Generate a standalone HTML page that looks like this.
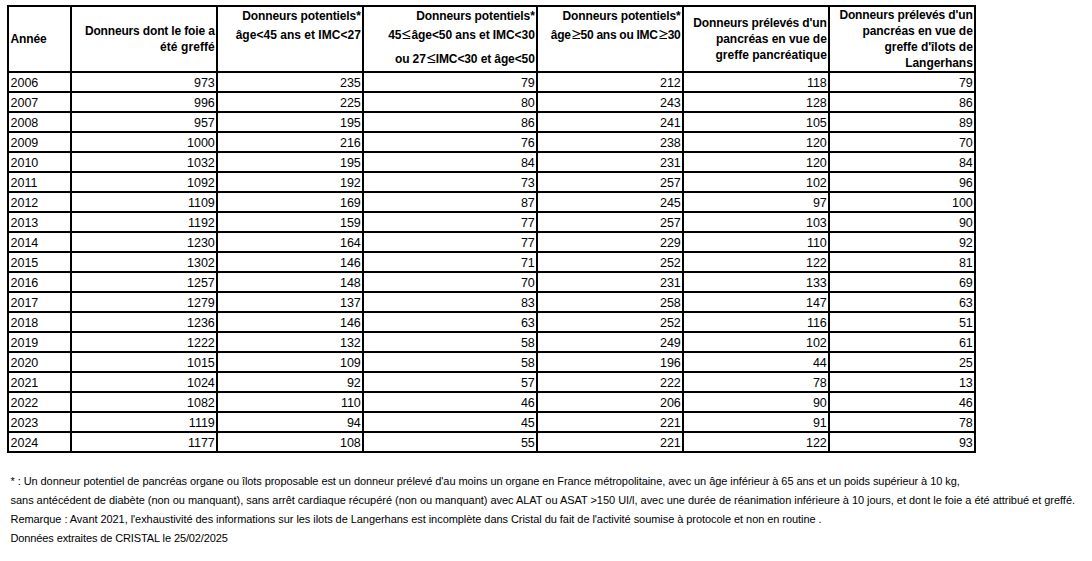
<!DOCTYPE html>
<html><head><meta charset="utf-8"><style>
html,body{margin:0;padding:0;background:#fff;}
body{width:1092px;height:561px;position:relative;overflow:hidden;font-family:"Liberation Sans",sans-serif;color:#000;}
.l{position:absolute;background:#000;}
.t{position:absolute;white-space:nowrap;line-height:20px;height:20px;}
.r{text-align:right;}
.d{font-size:12.5px;}
.h{font-size:12px;font-weight:bold;}
.n{font-size:11px;}
.g{display:inline-block;vertical-align:baseline;}
</style></head><body>

<div class="l" style="left:7px;top:5px;width:2px;height:448px"></div>
<div class="l" style="left:70px;top:5px;width:2px;height:448px"></div>
<div class="l" style="left:216px;top:5px;width:2px;height:448px"></div>
<div class="l" style="left:362px;top:5px;width:2px;height:448px"></div>
<div class="l" style="left:536px;top:5px;width:2px;height:448px"></div>
<div class="l" style="left:682px;top:5px;width:2px;height:448px"></div>
<div class="l" style="left:828px;top:5px;width:2px;height:448px"></div>
<div class="l" style="left:974px;top:5px;width:2px;height:448px"></div>
<div class="l" style="left:7px;top:5px;width:969px;height:2px"></div>
<div class="l" style="left:7px;top:71px;width:969px;height:2px"></div>
<div class="l" style="left:7px;top:91px;width:969px;height:2px"></div>
<div class="l" style="left:7px;top:111px;width:969px;height:2px"></div>
<div class="l" style="left:7px;top:131px;width:969px;height:2px"></div>
<div class="l" style="left:7px;top:151px;width:969px;height:2px"></div>
<div class="l" style="left:7px;top:171px;width:969px;height:2px"></div>
<div class="l" style="left:7px;top:191px;width:969px;height:2px"></div>
<div class="l" style="left:7px;top:211px;width:969px;height:2px"></div>
<div class="l" style="left:7px;top:231px;width:969px;height:2px"></div>
<div class="l" style="left:7px;top:251px;width:969px;height:2px"></div>
<div class="l" style="left:7px;top:271px;width:969px;height:2px"></div>
<div class="l" style="left:7px;top:291px;width:969px;height:2px"></div>
<div class="l" style="left:7px;top:311px;width:969px;height:2px"></div>
<div class="l" style="left:7px;top:331px;width:969px;height:2px"></div>
<div class="l" style="left:7px;top:351px;width:969px;height:2px"></div>
<div class="l" style="left:7px;top:371px;width:969px;height:2px"></div>
<div class="l" style="left:7px;top:391px;width:969px;height:2px"></div>
<div class="l" style="left:7px;top:411px;width:969px;height:2px"></div>
<div class="l" style="left:7px;top:431px;width:969px;height:2px"></div>
<div class="l" style="left:7px;top:451px;width:969px;height:2px"></div>
<div class="t h" style="left:10.5px;top:29px;letter-spacing:-0.125px">Année</div>
<div class="t h r" style="right:877.35px;top:21px;letter-spacing:-0.155px">Donneurs dont le foie a</div>
<div class="t h r" style="right:877.10px;top:37px;letter-spacing:0.100px">été greffé</div>
<div class="t h r" style="right:731.31px;top:6px;letter-spacing:-0.111px">Donneurs potentiels*</div>
<div class="t h r" style="right:731.18px;top:25px;letter-spacing:0.021px">âge&lt;45 ans et IMC&lt;27</div>
<div class="t h r" style="right:557.31px;top:6px;letter-spacing:-0.111px">Donneurs potentiels*</div>
<div class="t h r" style="right:557.27px;top:25px;letter-spacing:-0.073px">45<svg class="g" width="10" height="9" viewBox="0 0 10 9"><path d="M9.3 0.4 L1.8 3.7 L9.3 6.9 M1.7 8.4 H9.3" fill="none" stroke="#000" stroke-width="1.05"/></svg>âge&lt;50 ans et IMC&lt;30</div>
<div class="t h r" style="right:557.31px;top:49px;letter-spacing:-0.110px">ou 27<svg class="g" width="10" height="9" viewBox="0 0 10 9"><path d="M9.3 0.4 L1.8 3.7 L9.3 6.9 M1.7 8.4 H9.3" fill="none" stroke="#000" stroke-width="1.05"/></svg>IMC&lt;30 et âge&lt;50</div>
<div class="t h r" style="right:411.33px;top:6px;letter-spacing:-0.126px">Donneurs potentiels*</div>
<div class="t h r" style="right:411.47px;top:25px;letter-spacing:-0.274px">âge<svg class="g" width="10" height="9" viewBox="0 0 10 9"><path d="M1.5 0.4 L9 3.7 L1.5 6.9 M1.5 8.4 H9" fill="none" stroke="#000" stroke-width="1.05"/></svg>50 ans ou IMC<svg class="g" width="10" height="9" viewBox="0 0 10 9"><path d="M1.5 0.4 L9 3.7 L1.5 6.9 M1.5 8.4 H9" fill="none" stroke="#000" stroke-width="1.05"/></svg>30</div>
<div class="t h r" style="right:265.33px;top:13px;letter-spacing:-0.129px">Donneurs prélevés d'un</div>
<div class="t h r" style="right:265.23px;top:29px;letter-spacing:-0.029px">pancréas en vue de</div>
<div class="t h r" style="right:265.21px;top:45px;letter-spacing:-0.006px">greffe pancréatique</div>
<div class="t h r" style="right:119.33px;top:5px;letter-spacing:-0.133px">Donneurs prélevés d'un</div>
<div class="t h r" style="right:119.26px;top:21px;letter-spacing:-0.059px">pancréas en vue de</div>
<div class="t h r" style="right:119.24px;top:37px;letter-spacing:-0.038px">greffe d'îlots de</div>
<div class="t h r" style="right:119.24px;top:53px;letter-spacing:-0.044px">Langerhans</div>
<div class="t d" style="left:10.5px;top:73px">2006</div>
<div class="t d r" style="right:877.20px;top:73px">973</div>
<div class="t d r" style="right:731.20px;top:73px">235</div>
<div class="t d r" style="right:557.20px;top:73px">79</div>
<div class="t d r" style="right:411.20px;top:73px">212</div>
<div class="t d r" style="right:265.20px;top:73px">118</div>
<div class="t d r" style="right:119.20px;top:73px">79</div>
<div class="t d" style="left:10.5px;top:93px">2007</div>
<div class="t d r" style="right:877.20px;top:93px">996</div>
<div class="t d r" style="right:731.20px;top:93px">225</div>
<div class="t d r" style="right:557.20px;top:93px">80</div>
<div class="t d r" style="right:411.20px;top:93px">243</div>
<div class="t d r" style="right:265.20px;top:93px">128</div>
<div class="t d r" style="right:119.20px;top:93px">86</div>
<div class="t d" style="left:10.5px;top:113px">2008</div>
<div class="t d r" style="right:877.20px;top:113px">957</div>
<div class="t d r" style="right:731.20px;top:113px">195</div>
<div class="t d r" style="right:557.20px;top:113px">86</div>
<div class="t d r" style="right:411.20px;top:113px">241</div>
<div class="t d r" style="right:265.20px;top:113px">105</div>
<div class="t d r" style="right:119.20px;top:113px">89</div>
<div class="t d" style="left:10.5px;top:133px">2009</div>
<div class="t d r" style="right:877.20px;top:133px">1000</div>
<div class="t d r" style="right:731.20px;top:133px">216</div>
<div class="t d r" style="right:557.20px;top:133px">76</div>
<div class="t d r" style="right:411.20px;top:133px">238</div>
<div class="t d r" style="right:265.20px;top:133px">120</div>
<div class="t d r" style="right:119.20px;top:133px">70</div>
<div class="t d" style="left:10.5px;top:153px">2010</div>
<div class="t d r" style="right:877.20px;top:153px">1032</div>
<div class="t d r" style="right:731.20px;top:153px">195</div>
<div class="t d r" style="right:557.20px;top:153px">84</div>
<div class="t d r" style="right:411.20px;top:153px">231</div>
<div class="t d r" style="right:265.20px;top:153px">120</div>
<div class="t d r" style="right:119.20px;top:153px">84</div>
<div class="t d" style="left:10.5px;top:173px">2011</div>
<div class="t d r" style="right:877.20px;top:173px">1092</div>
<div class="t d r" style="right:731.20px;top:173px">192</div>
<div class="t d r" style="right:557.20px;top:173px">73</div>
<div class="t d r" style="right:411.20px;top:173px">257</div>
<div class="t d r" style="right:265.20px;top:173px">102</div>
<div class="t d r" style="right:119.20px;top:173px">96</div>
<div class="t d" style="left:10.5px;top:193px">2012</div>
<div class="t d r" style="right:877.20px;top:193px">1109</div>
<div class="t d r" style="right:731.20px;top:193px">169</div>
<div class="t d r" style="right:557.20px;top:193px">87</div>
<div class="t d r" style="right:411.20px;top:193px">245</div>
<div class="t d r" style="right:265.20px;top:193px">97</div>
<div class="t d r" style="right:119.20px;top:193px">100</div>
<div class="t d" style="left:10.5px;top:213px">2013</div>
<div class="t d r" style="right:877.20px;top:213px">1192</div>
<div class="t d r" style="right:731.20px;top:213px">159</div>
<div class="t d r" style="right:557.20px;top:213px">77</div>
<div class="t d r" style="right:411.20px;top:213px">257</div>
<div class="t d r" style="right:265.20px;top:213px">103</div>
<div class="t d r" style="right:119.20px;top:213px">90</div>
<div class="t d" style="left:10.5px;top:233px">2014</div>
<div class="t d r" style="right:877.20px;top:233px">1230</div>
<div class="t d r" style="right:731.20px;top:233px">164</div>
<div class="t d r" style="right:557.20px;top:233px">77</div>
<div class="t d r" style="right:411.20px;top:233px">229</div>
<div class="t d r" style="right:265.20px;top:233px">110</div>
<div class="t d r" style="right:119.20px;top:233px">92</div>
<div class="t d" style="left:10.5px;top:253px">2015</div>
<div class="t d r" style="right:877.20px;top:253px">1302</div>
<div class="t d r" style="right:731.20px;top:253px">146</div>
<div class="t d r" style="right:557.20px;top:253px">71</div>
<div class="t d r" style="right:411.20px;top:253px">252</div>
<div class="t d r" style="right:265.20px;top:253px">122</div>
<div class="t d r" style="right:119.20px;top:253px">81</div>
<div class="t d" style="left:10.5px;top:273px">2016</div>
<div class="t d r" style="right:877.20px;top:273px">1257</div>
<div class="t d r" style="right:731.20px;top:273px">148</div>
<div class="t d r" style="right:557.20px;top:273px">70</div>
<div class="t d r" style="right:411.20px;top:273px">231</div>
<div class="t d r" style="right:265.20px;top:273px">133</div>
<div class="t d r" style="right:119.20px;top:273px">69</div>
<div class="t d" style="left:10.5px;top:293px">2017</div>
<div class="t d r" style="right:877.20px;top:293px">1279</div>
<div class="t d r" style="right:731.20px;top:293px">137</div>
<div class="t d r" style="right:557.20px;top:293px">83</div>
<div class="t d r" style="right:411.20px;top:293px">258</div>
<div class="t d r" style="right:265.20px;top:293px">147</div>
<div class="t d r" style="right:119.20px;top:293px">63</div>
<div class="t d" style="left:10.5px;top:313px">2018</div>
<div class="t d r" style="right:877.20px;top:313px">1236</div>
<div class="t d r" style="right:731.20px;top:313px">146</div>
<div class="t d r" style="right:557.20px;top:313px">63</div>
<div class="t d r" style="right:411.20px;top:313px">252</div>
<div class="t d r" style="right:265.20px;top:313px">116</div>
<div class="t d r" style="right:119.20px;top:313px">51</div>
<div class="t d" style="left:10.5px;top:333px">2019</div>
<div class="t d r" style="right:877.20px;top:333px">1222</div>
<div class="t d r" style="right:731.20px;top:333px">132</div>
<div class="t d r" style="right:557.20px;top:333px">58</div>
<div class="t d r" style="right:411.20px;top:333px">249</div>
<div class="t d r" style="right:265.20px;top:333px">102</div>
<div class="t d r" style="right:119.20px;top:333px">61</div>
<div class="t d" style="left:10.5px;top:353px">2020</div>
<div class="t d r" style="right:877.20px;top:353px">1015</div>
<div class="t d r" style="right:731.20px;top:353px">109</div>
<div class="t d r" style="right:557.20px;top:353px">58</div>
<div class="t d r" style="right:411.20px;top:353px">196</div>
<div class="t d r" style="right:265.20px;top:353px">44</div>
<div class="t d r" style="right:119.20px;top:353px">25</div>
<div class="t d" style="left:10.5px;top:373px">2021</div>
<div class="t d r" style="right:877.20px;top:373px">1024</div>
<div class="t d r" style="right:731.20px;top:373px">92</div>
<div class="t d r" style="right:557.20px;top:373px">57</div>
<div class="t d r" style="right:411.20px;top:373px">222</div>
<div class="t d r" style="right:265.20px;top:373px">78</div>
<div class="t d r" style="right:119.20px;top:373px">13</div>
<div class="t d" style="left:10.5px;top:393px">2022</div>
<div class="t d r" style="right:877.20px;top:393px">1082</div>
<div class="t d r" style="right:731.20px;top:393px">110</div>
<div class="t d r" style="right:557.20px;top:393px">46</div>
<div class="t d r" style="right:411.20px;top:393px">206</div>
<div class="t d r" style="right:265.20px;top:393px">90</div>
<div class="t d r" style="right:119.20px;top:393px">46</div>
<div class="t d" style="left:10.5px;top:413px">2023</div>
<div class="t d r" style="right:877.20px;top:413px">1119</div>
<div class="t d r" style="right:731.20px;top:413px">94</div>
<div class="t d r" style="right:557.20px;top:413px">45</div>
<div class="t d r" style="right:411.20px;top:413px">221</div>
<div class="t d r" style="right:265.20px;top:413px">91</div>
<div class="t d r" style="right:119.20px;top:413px">78</div>
<div class="t d" style="left:10.5px;top:433px">2024</div>
<div class="t d r" style="right:877.20px;top:433px">1177</div>
<div class="t d r" style="right:731.20px;top:433px">108</div>
<div class="t d r" style="right:557.20px;top:433px">55</div>
<div class="t d r" style="right:411.20px;top:433px">221</div>
<div class="t d r" style="right:265.20px;top:433px">122</div>
<div class="t d r" style="right:119.20px;top:433px">93</div>
<div class="t n" style="left:10.5px;top:471px;letter-spacing:-0.073px">* : Un donneur potentiel de pancréas organe ou îlots proposable est un donneur prélevé d'au moins un organe en France métropolitaine, avec un âge inférieur à 65 ans et un poids supérieur à 10 kg,</div>
<div class="t n" style="left:10.5px;top:490px;letter-spacing:-0.034px">sans antécédent de diabète (non ou manquant), sans arrêt cardiaque récupéré (non ou manquant) avec ALAT ou ASAT &gt;150 UI/l, avec une durée de réanimation inférieure à 10 jours, et dont le foie a été attribué et greffé.</div>
<div class="t n" style="left:10.5px;top:509px;letter-spacing:-0.057px">Remarque : Avant 2021, l'exhaustivité des informations sur les ilots de Langerhans est incomplète dans Cristal du fait de l'activité soumise à protocole et non en routine .</div>
<div class="t n" style="left:10.5px;top:528px;letter-spacing:-0.110px">Données extraites de CRISTAL le 25/02/2025</div>
</body></html>
